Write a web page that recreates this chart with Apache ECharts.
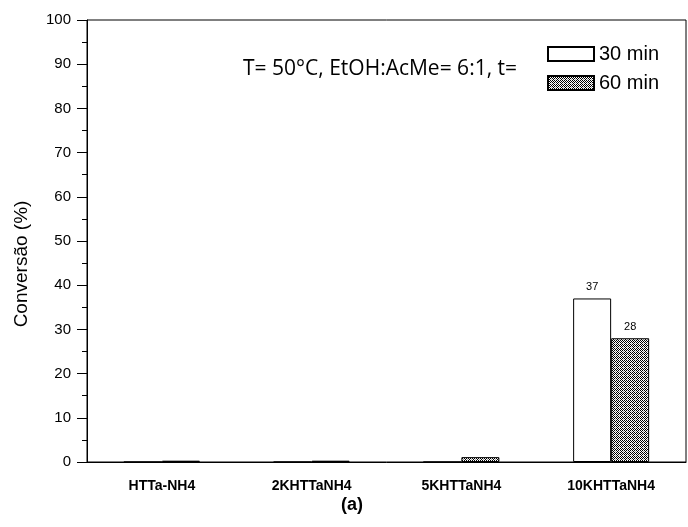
<!DOCTYPE html>
<html>
<head>
<meta charset="utf-8">
<script src="https://cdn.jsdelivr.net/npm/echarts@6/dist/echarts.min.js"></script>
<style>
  html, body { margin: 0; padding: 0; background: #fff; }
  #chart { width: 688px; height: 527px; }
</style>
</head>
<body>
<div id="chart"></div>
<script>
// Catalysts tested and conversion (%) after each reaction time
const categories = ['HTTa-NH4', '2KHTTaNH4', '5KHTTaNH4', '10KHTTaNH4'];
const conv30 = [0, 0, 0, 37];
const conv60 = [0.3, 0.3, 1.1, 28];
const seriesNames = ['30 min', '60 min'];
const yTicks = { min: 0, max: 100, interval: 10 };
const conditionsText = 'T= 50°C, EtOH:AcMe= 6:1, t=';
const panelLabel = '(a)';

// Dotted checker fill for the 60 min bars
function makeDotPattern() {
  const c = document.createElement('canvas');
  c.width = 4; c.height = 4;
  const g = c.getContext('2d');
  g.fillStyle = '#ffffff';
  g.fillRect(0, 0, 4, 4);
  g.fillStyle = '#000000';
  g.fillRect(0, 0, 1, 1);
  g.fillRect(2, 0, 1, 1);
  g.fillRect(1, 1, 1, 1);
  g.fillRect(0, 2, 1, 1);
  g.fillRect(3, 1, 1, 1);
  g.fillRect(2, 2, 1, 1);
  g.fillRect(1, 3, 1, 1);
  g.fillStyle = '#9a9a9a';
  g.fillRect(3, 3, 1, 1);
  return c;
}
const dotFill = { image: makeDotPattern(), repeat: 'repeat' };

const chart = echarts.init(document.getElementById('chart'), null, { renderer: 'canvas' });

const baseFont = 'Liberation Sans, Arial, sans-serif';

const option = {
  animation: false,
  backgroundColor: '#ffffff',
  grid: {
    left: 87, right: 2, top: 20, bottom: 65,
    show: true, borderColor: '#000', borderWidth: 1, backgroundColor: 'transparent'
  },
  legend: {
    orient: 'vertical',
    left: 547, top: 44,
    padding: 0,
    itemWidth: 46, itemHeight: 14, itemGap: 9,
    icon: 'rect',
    selectedMode: false,
    data: seriesNames,
    textStyle: { fontFamily: baseFont, fontSize: 20, lineHeight: 16, color: '#000' }
  },
  xAxis: [
    {
      type: 'category',
      data: categories,
      boundaryGap: true,
      axisLine: { lineStyle: { color: '#000', width: 1 } },
      axisTick: { alignWithLabel: true, length: 10, lineStyle: { color: '#000' } },
      axisLabel: {
        margin: 17, color: '#000', fontFamily: baseFont,
        fontWeight: 'bold', fontSize: 14
      },
      splitLine: { show: false }
    },
    {
      type: 'category',
      data: categories,
      position: 'bottom',
      boundaryGap: true,
      axisLine: { show: false },
      axisTick: { alignWithLabel: false, length: 5, lineStyle: { color: '#000' } },
      axisLabel: { show: false },
      splitLine: { show: false }
    }
  ],
  yAxis: {
    type: 'value',
    min: yTicks.min, max: yTicks.max, interval: yTicks.interval,
    name: 'Conversão (%)',
    nameLocation: 'middle',
    nameRotate: 90,
    nameGap: 56,
    nameTextStyle: { fontFamily: baseFont, fontSize: 19, color: '#000', padding: [0, 46, 0, 0] },
    axisLine: { show: true, lineStyle: { color: '#000', width: 1 } },
    axisTick: { show: true, length: 10, lineStyle: { color: '#000' } },
    minorTick: { show: true, splitNumber: 2, length: 5, lineStyle: { color: '#000' } },
    axisLabel: { margin: 16, color: '#000', fontFamily: baseFont, fontSize: 15 },
    splitLine: { show: false }
  },
  series: [
    {
      name: seriesNames[0],
      type: 'bar',
      xAxisIndex: 0,
      data: conv30,
      barWidth: 38,
      barGap: '0%',
      itemStyle: { color: '#ffffff', borderColor: '#000', borderWidth: 1 },
      label: {
        show: true, position: 'top', distance: 6,
        fontFamily: baseFont, fontSize: 11, color: '#000',
        formatter: p => (p.value >= 5 ? String(Math.round(p.value)) : '')
      }
    },
    {
      name: seriesNames[1],
      type: 'bar',
      xAxisIndex: 0,
      data: conv60,
      barWidth: 38,
      barGap: '0%',
      itemStyle: { color: dotFill, borderColor: '#000', borderWidth: 1 },
      label: {
        show: true, position: 'top', distance: 6,
        fontFamily: baseFont, fontSize: 11, color: '#000',
        formatter: p => (p.value >= 5 ? String(Math.round(p.value)) : '')
      }
    }
  ],
  graphic: [
    {
      type: 'text',
      left: 243, top: 59,
      style: {
        text: conditionsText,
        fontFamily: 'Open Sans, sans-serif',
        fontSize: 21,
        fill: '#000'
      }
    },
    {
      type: 'text',
      left: 341, top: 496,
      style: {
        text: panelLabel,
        fontFamily: baseFont,
        fontWeight: 'bold',
        fontSize: 18,
        fill: '#000'
      }
    }
  ]
};

chart.setOption(option);
</script>
</body>
</html>
